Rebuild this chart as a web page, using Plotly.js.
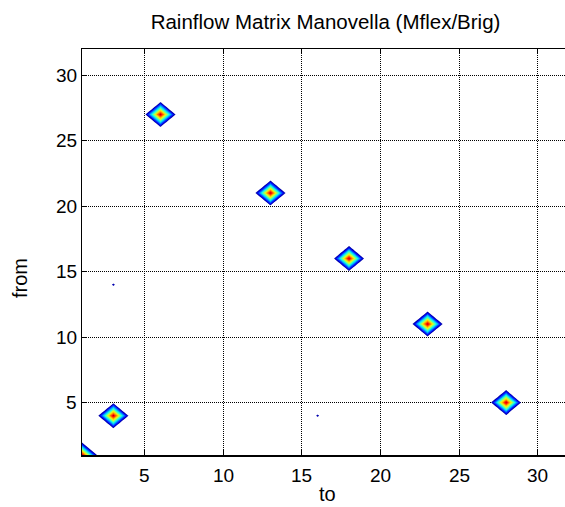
<!DOCTYPE html>
<html>
<head>
<meta charset="utf-8">
<script src="https://cdn.plot.ly/plotly-3.0.1.min.js"></script>
<style>
html,body{margin:0;padding:0;overflow:hidden;background:#fff;width:565px;height:507px}
#chart{width:575px;height:507px}
</style>
</head>
<body>
<div id="chart"></div>
<script>
// ---- data ----
const binCenters = [1,2,3,4,5,6,7,8,9,10,11,12,13,14,15,16,17,18,19,20,21,22,23,24,25,26,27,28,29,30,31,32];
const cellTo    = [1, 3, 6, 13, 18, 23, 28, 3, 16];   // "to" bin of each non-empty cell
const cellFrom  = [1, 4, 27, 21, 16, 11, 5, 14, 4];   // "from" bin of each non-empty cell
const cellCount = [11, 11, 11, 11, 11, 11, 11, 0.55, 0.55]; // estimated counts
const levelStart = 0.5, levelEnd = 10.5, levelStep = 1;
const tickValues = [5, 10, 15, 20, 25, 30];
const tickLabels = ['5', '10', '15', '20', '25', '30'];
const chartTitle = 'Rainflow Matrix Manovella (Mflex/Brig)';
const xLabel = 'to';
const yLabel = 'from';

// ---- matrix built from the arrays ----
const z = binCenters.map(() => binCenters.map(() => 0));
cellTo.forEach((t, i) => {
  const r = binCenters.indexOf(cellFrom[i]);
  const c = binCenters.indexOf(t);
  z[r][c] = cellCount[i];
});

// ---- MATLAB-like jet colormap for the filled bands ----
function jet(v) {
  const f = (x) => Math.max(0, Math.min(1, x));
  const r = f(Math.min(4 * v - 1.5, -4 * v + 4.5));
  const g = f(Math.min(4 * v - 0.5, -4 * v + 3.5));
  const b = f(Math.min(4 * v + 0.5, -4 * v + 2.5));
  return 'rgb(' + Math.round(r * 255) + ',' + Math.round(g * 255) + ',' + Math.round(b * 255) + ')';
}
const nLevels = Math.round((levelEnd - levelStart) / levelStep) + 1;
const zMax = Math.max(...cellCount);
const colorscale = [];
for (let k = 0; k <= nLevels; k++) {
  const lev = levelStart + (k - 1) * levelStep;
  colorscale.push([k / nLevels, k === 0 ? 'rgba(255,255,255,0)' : jet(lev / zMax)]);
}

const font = 'Liberation Sans, Arial, sans-serif';
const tickFont = {family: font, size: 19, color: '#000'};
const axisCommon = {
  range: [1, 32],
  tickmode: 'array',
  tickvals: tickValues,
  ticktext: tickLabels,
  showticklabels: false,
  showgrid: true,
  gridcolor: '#000',
  griddash: '1px,1px',
  gridwidth: 1,
  zeroline: false,
  showline: true,
  linecolor: '#000',
  linewidth: 1.5,
  mirror: 'ticks',
  ticks: 'inside',
  ticklen: 5,
  tickwidth: 1,
  tickcolor: '#000',
  fixedrange: true
};

const trace = {
  type: 'contour',
  x: binCenters,
  y: binCenters,
  z: z,
  autocontour: false,
  contours: {coloring: 'fill', showlines: false, start: levelStart, end: levelEnd, size: levelStep},
  line: {width: 0, smoothing: 0},
  colorscale: colorscale,
  showscale: false,
  hoverinfo: 'skip'
};

// plot area in pixels: x 82..569, y 49..455
const plotH = 406;
const plotW = 487;
const tickAnnotations = [];
tickValues.forEach((v, i) => {
  tickAnnotations.push({text: tickLabels[i], xref: 'x', yref: 'paper', x: v, y: (455 - 475) / plotH,
    xanchor: 'center', yanchor: 'middle', showarrow: false, font: tickFont});
  tickAnnotations.push({text: tickLabels[i], xref: 'paper', yref: 'y', x: (79 - 82) / plotW, y: v,
    xanchor: 'right', yanchor: 'middle', showarrow: false, font: tickFont});
});

const layout = {
  width: 575,
  height: 507,
  margin: {l: 82, r: 6, t: 49, b: 52},
  paper_bgcolor: '#fff',
  plot_bgcolor: '#fff',
  showlegend: false,
  title: {
    text: chartTitle,
    font: {family: font, size: 20.5, color: '#000'},
    x: 0.5, xref: 'paper', xanchor: 'center',
    y: 1 - 22 / 507, yref: 'container', yanchor: 'middle'
  },
  xaxis: axisCommon,
  yaxis: axisCommon,
  annotations: tickAnnotations.concat([
    {text: xLabel, xref: 'paper', yref: 'paper', x: (327 - 82) / plotW, y: (455 - 494) / plotH,
     xanchor: 'center', yanchor: 'middle', showarrow: false,
     font: {family: font, size: 20, color: '#000'}},
    {text: yLabel, xref: 'paper', yref: 'paper', x: (20 - 82) / plotW, y: (455 - 278) / plotH,
     xanchor: 'center', yanchor: 'middle', showarrow: false, textangle: -90,
     font: {family: font, size: 20, color: '#000'}}
  ])
};

Plotly.newPlot('chart', [trace], layout, {displayModeBar: false, staticPlot: true});
</script>
</body>
</html>
